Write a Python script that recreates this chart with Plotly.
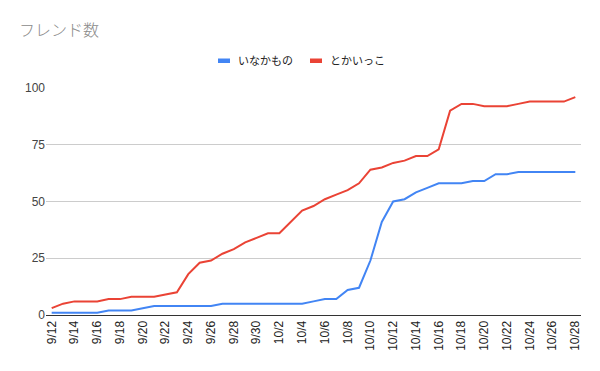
import plotly.graph_objects as go

dates = ["9/12", "9/13", "9/14", "9/15", "9/16", "9/17", "9/18", "9/19", "9/20", "9/21",
         "9/22", "9/23", "9/24", "9/25", "9/26", "9/27", "9/28", "9/29", "9/30",
         "10/1", "10/2", "10/3", "10/4", "10/5", "10/6", "10/7", "10/8", "10/9", "10/10",
         "10/11", "10/12", "10/13", "10/14", "10/15", "10/16", "10/17", "10/18", "10/19",
         "10/20", "10/21", "10/22", "10/23", "10/24", "10/25", "10/26", "10/27", "10/28"]

inakamono = [1, 1, 1, 1, 1, 2, 2, 2, 3, 4,
             4, 4, 4, 4, 4, 5, 5, 5, 5,
             5, 5, 5, 5, 6, 7, 7, 11, 12, 24,
             41, 50, 51, 54, 56, 58, 58, 58, 59,
             59, 62, 62, 63, 63, 63, 63, 63, 63]

tokaikko = [3, 5, 6, 6, 6, 7, 7, 8, 8, 8,
            9, 10, 18, 23, 24, 27, 29, 32, 34,
            36, 36, 41, 46, 48, 51, 53, 55, 58, 64,
            65, 67, 68, 70, 70, 73, 90, 93, 93,
            92, 92, 92, 93, 94, 94, 94, 94, 96]

series_names = ["いなかもの", "とかいっこ"]
tick_labels = dates[::2]
y_ticks = [0, 25, 50, 75, 100]

BLUE = "#4285F4"
RED = "#EA4335"
FONT = "Liberation Sans, Arial, Noto Sans CJK JP"

W, H = 600, 371
ML, MR, MT, MB = 46, 19, 88, 56
PW, PH = W - ML - MR, H - MT - MB


def px_x(x):
    return (x - ML) / PW


def px_y(y):
    return (H - MB - y) / PH


fig = go.Figure()
for name, vals, col in [(series_names[0], inakamono, BLUE), (series_names[1], tokaikko, RED)]:
    fig.add_trace(go.Scatter(x=dates, y=vals, mode="lines", name=name,
                             line=dict(color=col, width=2), showlegend=False))

# custom legend (swatch + text) to mimic the reference
legend_items = [(series_names[0], BLUE, 218), (series_names[1], RED, 310)]
shapes, annotations = [], []
for name, col, x0 in legend_items:
    shapes.append(dict(type="rect", xref="paper", yref="paper",
                       x0=px_x(x0), x1=px_x(x0 + 12), y0=px_y(63), y1=px_y(58.5),
                       fillcolor=col, line=dict(width=0)))
    annotations.append(dict(text=name, xref="paper", yref="paper", x=px_x(x0 + 18), y=px_y(61),
                            xanchor="left", yanchor="middle", showarrow=False,
                            font=dict(size=11, color="#222222", family=FONT)))

fig.update_layout(
    width=W, height=H,
    paper_bgcolor="white", plot_bgcolor="white",
    margin=dict(l=ML, r=MR, t=MT, b=MB, autoexpand=False),
    font=dict(family=FONT, size=12, color="#444444"),
    title=dict(text="フレンド数", x=19 / W, xanchor="left", y=1 - 30 / H, yanchor="middle",
               font=dict(size=16, color="#8a8a8a", family=FONT, weight=300)),
    showlegend=False,
    shapes=shapes,
    annotations=annotations,
    xaxis=dict(type="category", range=[-0.5, len(dates) - 0.5], automargin=False,
               tickmode="array", tickvals=tick_labels, ticktext=tick_labels,
               tickangle=-90, showgrid=False, showline=True, linecolor="#333333",
               linewidth=1, ticks="", tickfont=dict(size=12, color="#222222")),
    yaxis=dict(range=[0, 100], tickvals=y_ticks, showgrid=True, gridcolor="#cccccc",
               automargin=False,
               zeroline=False, showline=False, ticks="", tickfont=dict(size=12, color="#444444")),
)

fig.write_html("out.html", config={"displayModeBar": False},
               post_script="document.body.style.margin='0';")
